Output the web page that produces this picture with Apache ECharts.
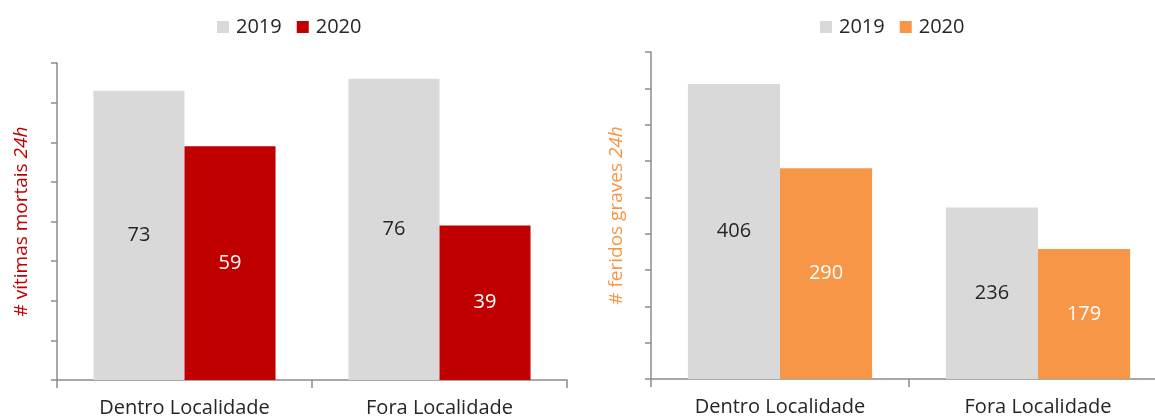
<!DOCTYPE html>
<html>
<head>
<meta charset="utf-8">
<script src="https://cdn.jsdelivr.net/npm/echarts@6/dist/echarts.min.js"></script>
<style>
  html, body { margin: 0; padding: 0; background: #fff; overflow: hidden; }
  #wrap { position: relative; width: 1155px; height: 419px; overflow: hidden; }
  #mortos { position: absolute; left: 0; top: 0; width: 580px; height: 419px; }
  #graves { position: absolute; left: 580px; top: 0; width: 600px; height: 419px; }
</style>
</head>
<body>
<div id="wrap">
  <div id="mortos"></div>
  <div id="graves"></div>
</div>
<script>
// dados
var categorias = ['Dentro Localidade', 'Fora Localidade'];
var anos = ['2019', '2020'];
var mortos2019 = [73, 76];
var mortos2020 = [59, 39];
var graves2019 = [406, 236];
var graves2020 = [290, 179];

var cinza = '#D9D9D9';
var eixo = '#8C8C8C';
var fonte = '"Open Sans", sans-serif';

function grafico(el, cfg) {
  var chart = echarts.init(document.getElementById(el));
  var option = {
    animation: false,
    textStyle: { fontFamily: fonte },
    legend: {
      data: anos,
      left: cfg.legendLeft,
      top: 12,
      itemWidth: 12,
      itemHeight: 12,
      itemGap: 15,
      icon: 'rect',
      textStyle: { fontSize: 20, color: '#262626', fontFamily: fonte, padding: [0, 0, 0, 2] }
    },
    grid: { left: cfg.left, right: cfg.right, top: cfg.top, bottom: cfg.bottom },
    xAxis: {
      type: 'category',
      data: categorias,
      axisLine: { lineStyle: { color: eixo, width: 1.5 } },
      axisTick: { show: true, length: 8, lineStyle: { color: eixo, width: 1.5 } },
      axisLabel: { fontSize: 20, color: '#262626', margin: 18, fontFamily: fonte }
    },
    yAxis: {
      type: 'value',
      min: 0,
      max: cfg.max,
      interval: cfg.interval,
      name: cfg.nome,
      nameLocation: 'middle',
      nameRotate: 90,
      nameGap: cfg.nameGap,
      nameTextStyle: {
        color: cfg.corNome,
        fontSize: 19,
        fontFamily: fonte,
        rich: { i: { fontStyle: 'italic', fontSize: 19, fontFamily: fonte, color: cfg.corNome } }
      },
      axisLine: { show: true, lineStyle: { color: eixo, width: 1.5 } },
      axisTick: { show: true, length: 6, lineStyle: { color: eixo, width: 1.5 } },
      axisLabel: { show: false },
      splitLine: { show: false }
    },
    series: [
      {
        name: '2019', type: 'bar', data: cfg.v2019,
        barGap: '0%', barCategoryGap: '28.6%',
        itemStyle: { color: cinza },
        label: { show: true, position: 'inside', fontSize: 20, color: '#262626', fontFamily: fonte }
      },
      {
        name: '2020', type: 'bar', data: cfg.v2020,
        itemStyle: { color: cfg.cor2020 },
        label: { show: true, position: 'inside', fontSize: 20, color: '#FFFFFF', fontFamily: fonte }
      }
    ]
  };
  chart.setOption(option);
}

grafico('mortos', {
  legendLeft: 212, left: 57, right: 13, top: 63, bottom: 39,
  max: 80, interval: 10,
  nome: '# vítimas mortais {i|24h}', nameGap: 26,
  cor2020: '#C00000', corNome: '#C00000',
  v2019: mortos2019, v2020: mortos2020
});

grafico('graves', {
  legendLeft: 235, left: 71, right: 13, top: 52, bottom: 40,
  max: 450, interval: 50,
  nome: '# feridos graves {i|24h}', nameGap: 25,
  cor2020: '#F79646', corNome: '#F79646',
  v2019: graves2019, v2020: graves2020
});
</script>
</body>
</html>
